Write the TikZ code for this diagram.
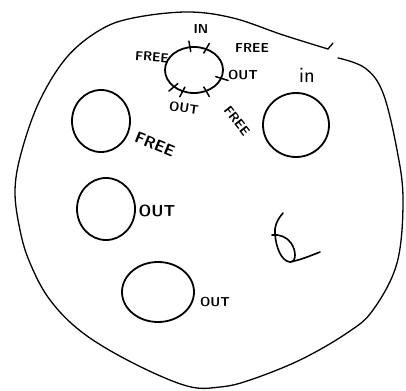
\documentclass[tikz,border=0pt]{standalone}
\usetikzlibrary{shapes.geometric,calc}

\begin{document}
\begin{tikzpicture}[x=1pt, y=-1pt,
  every node/.style={font=\sffamily\bfseries\fontsize{13}{13}\selectfont, inner sep=1pt},
  rn/.style={draw, ellipse, line width=1.8pt, inner sep=0pt},
  lb/.style={font=\sffamily\bfseries\fontsize{13}{13}\selectfont},
  bl/.style={font=\sffamily\bfseries\fontsize{16}{16}\selectfont},
  tk/.style={line width=1.5pt, line cap=round},
  ol/.style={line width=1.3pt, line cap=round, line join=round}]
\useasboundingbox (0,0) rectangle (406,390);

% ---------------- outline ----------------
\draw[ol] plot[smooth, tension=0.6] coordinates {(328,49) (283,35) (233,18) (187,12)
  (133,18) (100,30) (67,57) (40,100) (22,150) (15,190) (20,230) (30,263) (50,300) (83,333)
  (133,363) (187,386) (220,387) (250,380) (300,360) (347,333) (373,310) (397,263) (403,200)
  (397,150) (383,93) (365,68) (338,58)};
\draw[ol] (328,49) -- (333,43);

% ---------------- rings ----------------
\node[rn, minimum width=58pt, minimum height=46pt] (top) at (194,70) {};
\node[rn, minimum width=58pt, minimum height=62pt] (free) at (101,121) {};
\node[rn, minimum width=58pt, minimum height=62pt] (mid) at (106,209) {};
\node[rn, minimum width=72pt, minimum height=60pt] (low) at (158,292) {};
\node[rn, minimum width=66pt, minimum height=64pt] (right) at (296,125) {};

% ---------------- ticks on the top ring ----------------
\foreach \a in {100,60,-17,-140,-118,-60}{
  \draw[tk] ($(top.center)!0.78!(top.\a)$) -- ($(top.center)!1.22!(top.\a)$);
}

% ---------------- labels ----------------
\node[lb] (tin) at (201,29) {IN};
\node[lb, rotate=-4] (tfl) at (152,57) {FREE};
\node[lb] (tfr) at (252,48) {FREE};
\node[lb] (tor) at (243,75) {OUT};
\node[lb, rotate=-8] (tob) at (184,108) {OUT};
\node[lb, rotate=-52] (tfb) at (237,121) {FREE};
\node[bl, rotate=-22] (lfree) at (155,144) {FREE};
\node[bl] (lmid) at (157,211) {OUT};
\node[lb] (llow) at (215,302) {OUT};
\node[font=\sffamily\fontsize{22}{22}\selectfont] (lin) at (307,75) {in};

% ---------------- six ----------------
\draw[ol, line width=1.6pt] (283,213) .. controls (277,220) and (274,227) .. (275,234)
  .. controls (276,247) and (281,261) .. (290,262) .. controls (297,262) and (296,250) .. (291,243)
  .. controls (287,237) and (279,234) .. (272,235);
\draw[ol, line width=1.6pt] (290,262) .. controls (300,260) and (310,256) .. (320,252);
\end{tikzpicture}
\end{document}
